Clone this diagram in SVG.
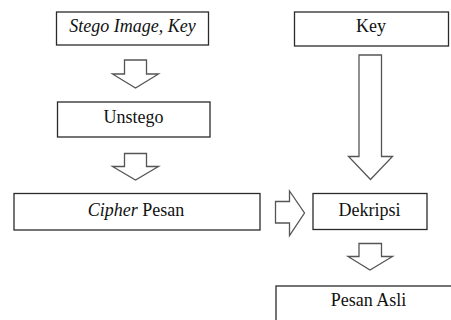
<svg xmlns="http://www.w3.org/2000/svg" width="451" height="320" viewBox="0 0 451 320">
<style>
.box{fill:#fff;stroke:#2a2a2a;stroke-width:1.3}
.t{font-family:'Liberation Serif','Times New Roman',Times,serif;font-size:18px;fill:#111;text-anchor:middle}
.i{font-style:italic}
.arr{fill:#fff;stroke:#555;stroke-width:1.3;stroke-linejoin:miter}
</style>
<rect width="451" height="320" fill="#fff"/>
<g id="connectors">
<polygon class="arr" points="124.5,60 146.5,60 146.5,74 158.5,74 135.5,88 112.5,74 124.5,74"/>
<polygon class="arr" points="124.5,153.5 146.5,153.5 146.5,166.5 158.5,166.5 135.5,180 112.5,166.5 124.5,166.5"/>
<polygon class="arr" points="359,55 381.5,55 381.5,156.5 392.5,156.5 370.5,179.5 348.5,156.5 359,156.5"/>
<polygon class="arr" points="359,243.5 381.5,243.5 381.5,256.5 392.5,256.5 370,270 348,256.5 359,256.5"/>
<polygon class="arr" points="275.5,201.5 289.5,201.5 289.5,191 304.5,213 289.5,235.5 289.5,223 275.5,223"/>
</g>
<g id="stego">
<rect class="box" x="56.5" y="12" width="152" height="33"/>
<text class="t i" x="132.5" y="32" font-family="Liberation Serif, serif">Stego Image, Key</text>
</g>
<g id="key">
<rect class="box" x="294.5" y="12" width="154" height="34"/>
<text class="t" x="371" y="32" font-family="Liberation Serif, serif">Key</text>
</g>
<g id="unstego">
<rect class="box" x="57.5" y="102" width="152.5" height="35"/>
<text class="t" x="133.5" y="123" font-family="Liberation Serif, serif">Unstego</text>
</g>
<g id="cipher">
<rect class="box" x="14" y="193.5" width="246" height="36.5"/>
<text class="t" x="136" y="216" font-family="Liberation Serif, serif"><tspan class="i">Cipher</tspan> Pesan</text>
</g>
<g id="dekripsi">
<rect class="box" x="313" y="193.5" width="114" height="36"/>
<text class="t" x="369.5" y="216" font-family="Liberation Serif, serif">Dekripsi</text>
</g>
<g id="pesan-asli">
<rect class="box" x="276" y="286" width="186" height="60"/>
<text class="t" x="368.5" y="306" font-family="Liberation Serif, serif">Pesan Asli</text>
</g>
</svg>
